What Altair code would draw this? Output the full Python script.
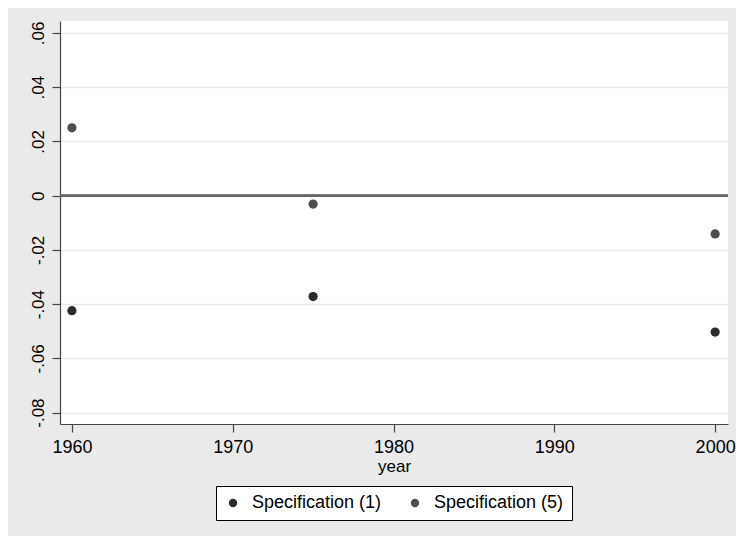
import altair as alt
import pandas as pd

years = [1960, 1975, 2000]
spec1 = [-0.0424, -0.0372, -0.0503]
spec5 = [0.0250, -0.0031, -0.0141]
series_names = ["Specification (1)", "Specification (5)"]
y_ticks = [-0.08, -0.06, -0.04, -0.02, 0, 0.02, 0.04, 0.06]
x_ticks = [1960, 1970, 1980, 1990, 2000]

rows = []
for y, v in zip(years, spec1):
    rows.append({"year": y, "value": v, "series": series_names[0]})
for y, v in zip(years, spec5):
    rows.append({"year": y, "value": v, "series": series_names[1]})
df = pd.DataFrame(rows)

FONT = "Liberation Sans"

xscale = alt.Scale(domain=[1959.26, 2000.8], nice=False, zero=False)
yscale = alt.Scale(domain=[-0.0842, 0.0644], nice=False, zero=False)

points = alt.Chart(df).mark_circle(size=85, opacity=1).encode(
    x=alt.X("year:Q", scale=xscale, title="year",
            axis=alt.Axis(values=x_ticks, format="d", grid=False,
                          labelFontSize=18, titleFontSize=17, labelPadding=6,
                          tickSize=8, titlePadding=2, labelFlush=False)),
    y=alt.Y("value:Q", scale=yscale, title=None,
            axis=alt.Axis(values=y_ticks, grid=True, gridColor="#EAEAEA", gridWidth=1.5,
                          labelExpr="datum.value == 0 ? '0' : (datum.value < 0 ? '-' : '') + replace(format(abs(datum.value), '.2f'), '0.', '.')",
                          labelAngle=270, labelAlign="center", labelBaseline="bottom",
                          labelFontSize=17, labelPadding=5, tickSize=8, labelFlush=False)),
    color=alt.Color("series:N",
                    scale=alt.Scale(domain=series_names, range=["#2b2b2b", "#4e4e4e"]),
                    legend=alt.Legend(title=None, orient="none", direction="horizontal",
                                      legendX=156, legendY=465,
                                      strokeColor="#000000", fillColor="#FFFFFF",
                                      padding=8, labelFontSize=18, labelFont=FONT,
                                      symbolType="circle", symbolSize=70,
                                      symbolStrokeWidth=0, labelOffset=10,
                                      columnPadding=24, labelColor="#000000")),
)

zero = alt.Chart(df).mark_rule(color="#666666", strokeWidth=1.6).encode(y=alt.datum(0))

chart = alt.layer(zero, points).properties(
    width=668, height=403,
    background="#EAEAEA",
    padding={"left": 52, "top": 13, "right": 8, "bottom": 112},
    autosize=alt.AutoSizeParams(type="none"),
).configure_view(
    fill="#FFFFFF", strokeWidth=0
).configure_axis(
    domainColor="#444444", tickColor="#444444", labelColor="#000000",
    titleColor="#000000", labelFont=FONT, titleFont=FONT,
    titleFontWeight="normal", domainWidth=1.2, tickWidth=1.2
)

chart.save("out.html", embed_options={"renderer": "svg", "actions": False})
